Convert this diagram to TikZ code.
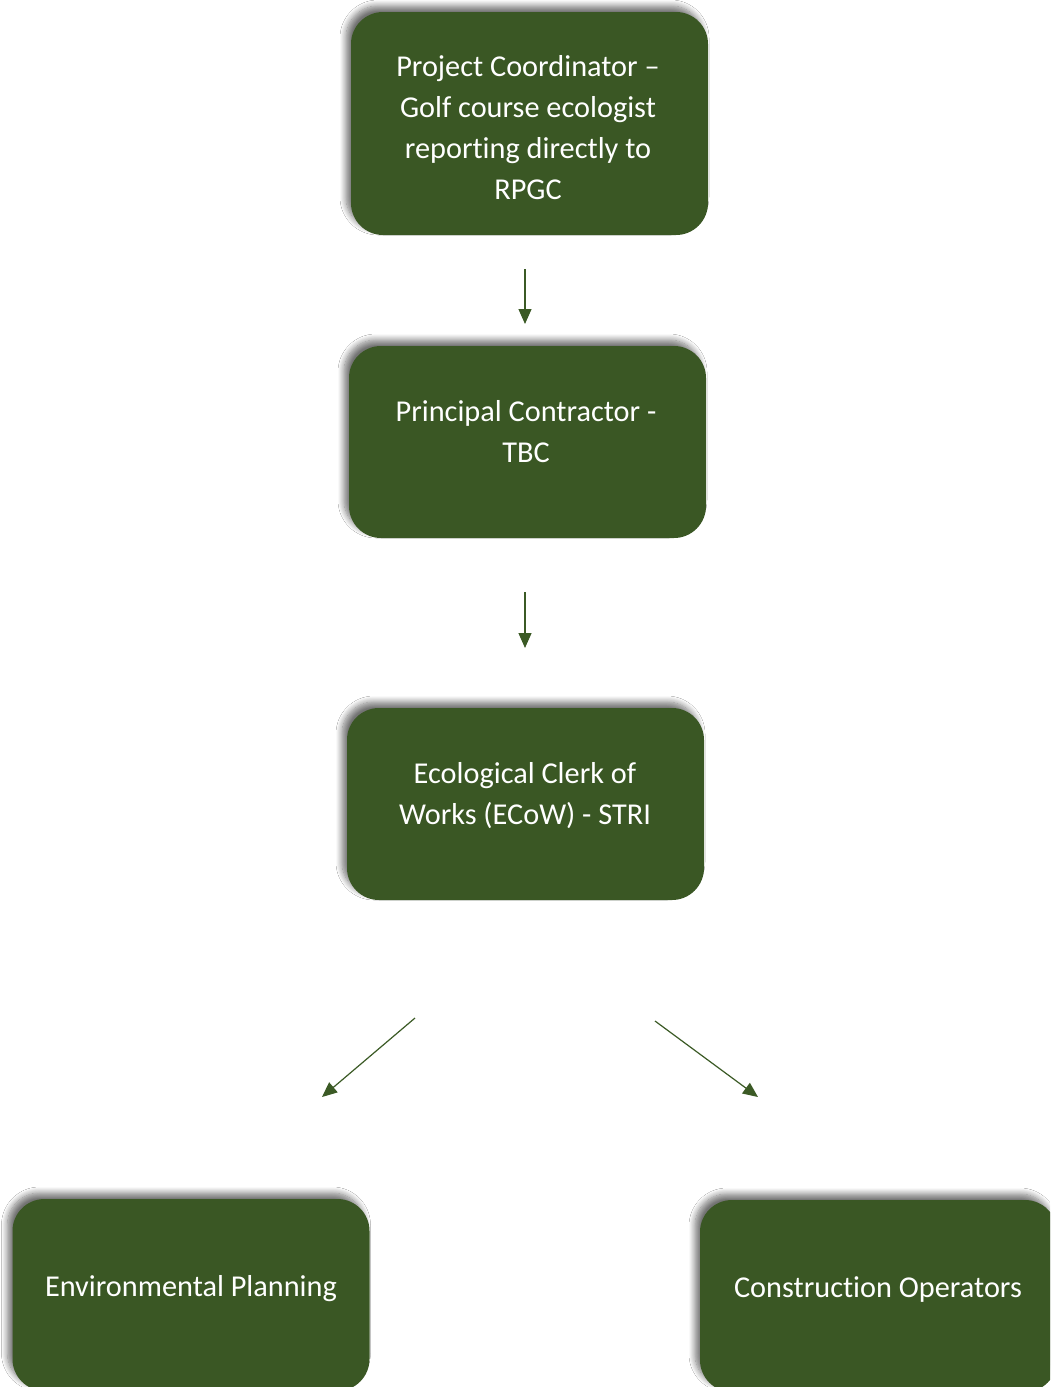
\documentclass[tikz,border=0pt]{standalone}
\usepackage{fontspec}
\setmainfont{Carlito}[Ligatures=NoCommon]
\usetikzlibrary{arrows.meta,shadows.blur}
\definecolor{boxgreen}{HTML}{3A5724}
\definecolor{arrowgreen}{HTML}{3B5A25}
\tikzset{
  orgbox/.style={draw=none, fill=boxgreen, rounded corners=32pt, inner sep=0pt,
    minimum width=357pt, blur shadow={shadow xshift=-5pt, shadow yshift=6pt, shadow blur radius=6pt, shadow blur steps=10, shadow opacity=55}},
  boxtext/.style={text=white, align=center, inner sep=0pt, font=\fontsize{30.3}{41}\selectfont},
  conn/.style={draw=arrowgreen, line width=1.2pt, -{Triangle[length=15pt,width=13pt]}}
}
\begin{document}
\begin{tikzpicture}[x=1pt,y=-1pt]
\useasboundingbox (0,0) rectangle (1050,1387);
\clip (0,0) rectangle (1050,1387);
\fill[white] (0,0) rectangle (1050,1387);
% boxes
\node[orgbox, minimum height=223pt] (b1) at (529.5,123.5) {};
\node[orgbox, minimum height=192pt] (b2) at (527.5,442) {};
\node[orgbox, minimum height=192pt] (b3) at (525.5,804) {};
\node[orgbox, minimum height=192pt] (b4) at (191,1295) {};
\node[orgbox, minimum height=192pt] (b5) at (878.5,1296) {};
% texts
\node[boxtext] (t1) at (528,128) {Project Coordinator –\\Golf course ecologist\\reporting directly to\\RPGC};
\node[boxtext] (t2) at (526,432) {Principal Contractor -\\TBC};
\node[boxtext] (t3) at (525,796) {Ecological Clerk of\\Works (ECoW) - STRI};
\node[boxtext] (t4) at (191,1289) {Environmental Planning};
\node[boxtext] (t5) at (878,1290) {Construction Operators};
% connector end points
\coordinate (c1s) at (525,269);
\coordinate (c1e) at (525,324);
\coordinate (c2s) at (525,592);
\coordinate (c2e) at (525,648);
\coordinate (c3s) at (415,1018);
\coordinate (c3e) at (322,1097);
\coordinate (c4s) at (655,1021);
\coordinate (c4e) at (758,1097);
\draw[conn] (c1s) -- (c1e);
\draw[conn] (c2s) -- (c2e);
\draw[conn] (c3s) -- (c3e);
\draw[conn] (c4s) -- (c4e);
\end{tikzpicture}
\end{document}
